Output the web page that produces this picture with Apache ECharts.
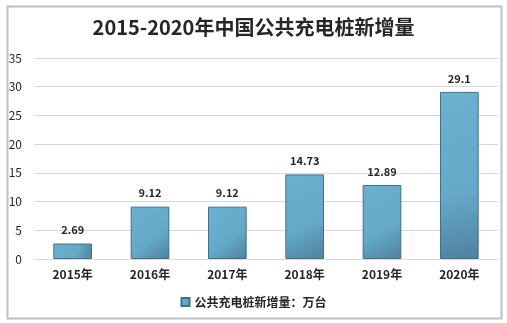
<!DOCTYPE html>
<html><head><meta charset="utf-8">
<script src="https://cdn.jsdelivr.net/npm/echarts@6/dist/echarts.min.js"></script>
<style>html,body{margin:0;padding:0;background:#fff}#c{width:507px;height:323px}</style>
</head><body><div id="c"></div>
<script>
const categories = ['2015年','2016年','2017年','2018年','2019年','2020年'];
const values = [2.69, 9.12, 9.12, 14.73, 12.89, 29.1];
const seriesName = '公共充电桩新增量：万台';
const titleText = '2015-2020年中国公共充电桩新增量';

const chart = echarts.init(document.getElementById('c'), null, {renderer:'canvas'});
const font = '"Noto Sans CJK SC", "Microsoft YaHei", sans-serif';
chart.setOption({
  animation: false,
  textStyle: {fontFamily: font},
  graphic: [{type:'rect', shape:{x:7.5,y:6.5,width:494,height:312}, style:{fill:'none', stroke:'#bfbfbf', lineWidth:2}, silent:true}],
  title: {text: titleText, left: 'center', top: 12, textStyle:{fontSize:20, fontWeight:'bold', color:'#262626', fontFamily: font}},
  legend: {bottom: 10, left: 'center', itemWidth: 8, itemHeight: 8, icon:'rect', textStyle:{fontSize:12, fontWeight:'bold', color:'#262626'}, data:[seriesName]},
  grid: {left: 34, right: 9, top: 58, bottom: 64},
  xAxis: {type:'category', data: categories, axisTick:{show:false}, axisLine:{lineStyle:{color:'#d9d9d9'}},
    axisLabel:{fontSize:12, fontWeight:'bold', color:'#262626', margin:9}},
  yAxis: {type:'value', min:0, max:35, interval:5, axisLine:{show:false}, axisTick:{show:false},
    splitLine:{lineStyle:{color:'#d9d9d9'}}, axisLabel:{fontSize:12, color:'#262626', margin:12}},
  series: [{name: seriesName, type:'bar', data: values, barWidth:'50%',
    itemStyle:{
      color: new echarts.graphic.LinearGradient(0,0,1,1,[{offset:0,color:'#6cb0cf'},{offset:0.6,color:'#65a9c9'},{offset:1,color:'#4f819d'}]),
      borderColor:'#41708a', borderWidth:1},
    label:{show:true, position:'top', distance:8, fontSize:11, fontWeight:'bold', color:'#262626'}
  }]
});
</script></body></html>
